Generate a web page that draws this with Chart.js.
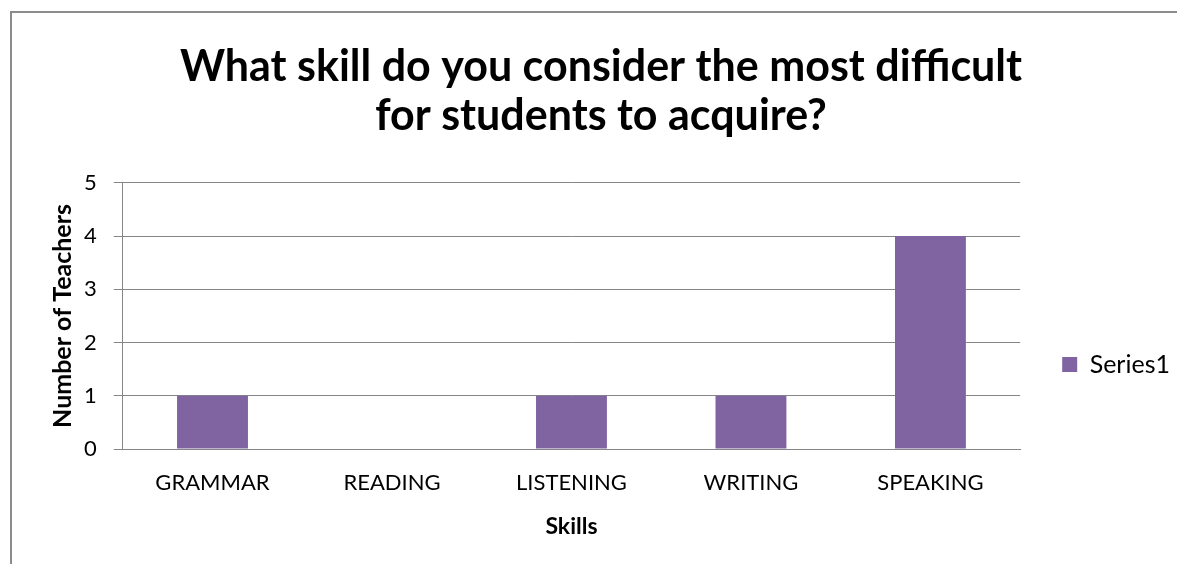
<!DOCTYPE html>
<html>
<head>
<meta charset="utf-8">
<script src="https://cdn.jsdelivr.net/npm/chart.js@4"></script>
<style>
  html, body { margin: 0; padding: 0; background: #fff; overflow: hidden; }
  .card {
    position: absolute;
    left: 10px;
    top: 11px;
    width: 1180px;
    height: 700px;
    border: 2px solid #8c8c8c;
    background: #fff;
  }
  canvas { display: block; }
</style>
</head>
<body>
<div class="card">
  <canvas id="skillsChart" width="1178" height="551"></canvas>
</div>
<script>
const skills = ['GRAMMAR', 'READING', 'LISTENING', 'WRITING', 'SPEAKING'];
const teachers = [1, 0, 1, 1, 4];
const yTicks = [0, 1, 2, 3, 4, 5];

Chart.defaults.font.family = 'Lato';
Chart.defaults.color = '#000';

// legend sits off to the right and lower than Chart.js would place it
const legendNudge = {
  id: 'legendNudge',
  afterLayout(chart, args, opts) {
    const lg = chart.legend;
    if (!lg) return;
    lg.left += opts.x; lg.right += opts.x;
    lg.top += opts.y; lg.bottom += opts.y;
  }
};

const ctx = document.getElementById('skillsChart').getContext('2d');

new Chart(ctx, {
  type: 'bar',
  data: {
    labels: skills,
    datasets: [{
      label: 'Series1',
      data: teachers,
      backgroundColor: '#8064A2',
      borderWidth: 0,
      categoryPercentage: 1,
      barPercentage: 0.395
    }]
  },
  plugins: [legendNudge],
  options: {
    responsive: false,
    animation: false,
    layout: {
      padding: { left: 36, right: 36, top: 0, bottom: 20 }
    },
    plugins: {
      title: {
        display: true,
        text: ['What skill do you consider the most difficult', 'for students to acquire?'],
        color: '#000',
        font: { size: 43, weight: 'bold', lineHeight: 1.15 },
        padding: { top: 29, bottom: 42 }
      },
      legend: {
        position: 'right',
        labels: {
          boxWidth: 15,
          boxHeight: 15,
          padding: 16,
          color: '#000',
          font: { size: 25 }
        }
      },
      legendNudge: { x: 26, y: 86 },
      tooltip: { enabled: false }
    },
    scales: {
      x: {
        grid: { display: false, drawTicks: false },
        border: { display: true, color: '#868686', width: 1 },
        ticks: { padding: 21, font: { size: 22 }, color: '#000' },
        title: {
          display: true,
          text: 'Skills',
          color: '#000',
          font: { size: 23, weight: 'bold' },
          padding: { top: -5, bottom: 4 }
        }
      },
      y: {
        min: 0,
        max: 5,
        afterBuildTicks(axis) {
          axis.ticks = yTicks.map(v => ({ value: v }));
        },
        grid: { color: '#868686', lineWidth: 1, tickLength: 9, drawTicks: true },
        border: { display: true, color: '#868686', width: 1 },
        ticks: { padding: 17, font: { size: 22 }, color: '#000' },
        title: {
          display: true,
          text: 'Number of Teachers',
          color: '#000',
          font: { size: 25, weight: 'bold' },
          padding: { top: 0, bottom: -11 }
        }
      }
    }
  }
});
</script>
</body>
</html>
